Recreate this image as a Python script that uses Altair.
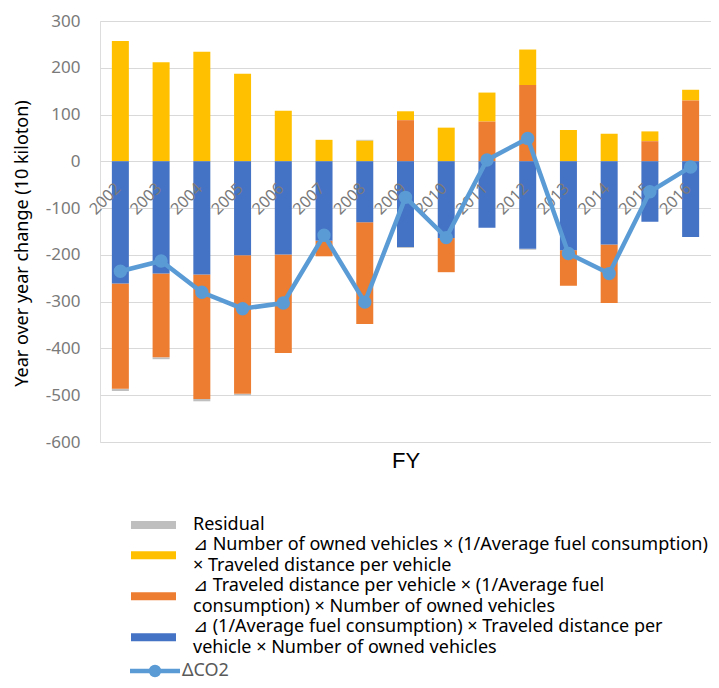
import altair as alt
import pandas as pd

years = ["2002", "2003", "2004", "2005", "2006", "2007", "2008", "2009",
         "2010", "2011", "2012", "2013", "2014", "2015", "2016"]

# contributions (10 kiloton)
vehicles_count = [257, 212, 234, 187, 108, 46, 44, 19, 72, 62, 76, 67, 59, 21, 23]
distance = [-225, -179, -266, -296, -211, -33, -218, 88, -73, 85, 163, -76, -125, 43, 130]
fuel_eff = [-261, -240, -242, -201, -199, -170, -130, -183, -164, -142, -187, -190, -178, -129, -162]
residual = [-5, -4, -5, -3, 0, 0, 2, -2, 0, 0, -2, 0, 0, 0, 0]
delta_co2 = [-235, -213, -280, -315, -303, -158, -301, -77, -163, 3, 49, -197, -240, -65, -12]

series_names = [
    "Residual",
    "⊿ Number of owned vehicles × (1/Average fuel consumption)\n× Traveled distance per vehicle",
    "⊿ Traveled distance per vehicle × (1/Average fuel\nconsumption) × Number of owned vehicles",
    "⊿ (1/Average fuel consumption) × Traveled distance per\nvehicle × Number of owned vehicles",
]
series_colors = ["#BFBFBF", "#FFC000", "#ED7D31", "#4472C4"]
stack_order = [3, 2, 1, 0]
line_name = "ΔCO2"
line_color = "#5B9BD5"
y_ticks = [-600, -500, -400, -300, -200, -100, 0, 100, 200, 300]

rows = []
for vals, name, order in zip([residual, vehicles_count, distance, fuel_eff],
                             series_names, stack_order):
    for y, v in zip(years, vals):
        rows.append({"year": y, "series": name, "value": v, "order": order})
df = pd.DataFrame(rows)
df_line = pd.DataFrame({"year": years, "value": delta_co2, "name": line_name})
df_years = pd.DataFrame({"year": years, "value": [0] * len(years)})

FONT = "Noto Sans"
yscale = alt.Scale(domain=[-600, 300], nice=False, zero=False)
xscale = alt.Scale(paddingInner=0, paddingOuter=0)

x_axis = alt.Axis(labels=False, ticks=False, domain=False, grid=False,
                  title="FY", titleFont="Liberation Sans", titleFontSize=22,
                  titleFontWeight="normal", titleColor="#000000", titlePadding=8)
y_axis = alt.Axis(values=y_ticks, title="Year over year change (10 kiloton)",
                  titleFont=FONT, titleFontSize=18, titleFontWeight="normal",
                  titleColor="#000000", titlePadding=14, titleY=222,
                  labelFont=FONT, labelFontSize=17, labelColor="#7A7A7A",
                  labelExpr="'' + datum.value",
                  labelPadding=20, ticks=False, domain=False,
                  grid=True, gridColor="#D9D9D9", gridWidth=1)

X = alt.X("year:N", sort=years, scale=xscale, axis=x_axis, title="FY")

two_line_path = "M-5.625,1.56H5.625V3.56H-5.625Z"
one_line_path = "M-5.625,-1H5.625V1H-5.625Z"

bars = alt.Chart(df).mark_bar(size=17).encode(
    x=X,
    y=alt.Y("value:Q", stack="zero", scale=yscale, axis=y_axis,
            title="Year over year change (10 kiloton)"),
    color=alt.Color("series:N",
                    scale=alt.Scale(domain=series_names, range=series_colors),
                    legend=alt.Legend(title=None, orient="none", legendX=31, legendY=495,
                                      direction="vertical", padding=0,
                                      symbolType=alt.ExprRef(
                                          f"datum.index == 0 ? '{one_line_path}' : '{two_line_path}'"),
                                      symbolSize=64, symbolOffset=13.5, symbolStrokeWidth=0,
                                      labelOffset=30.5, labelFont=FONT, labelFontSize=18,
                                      labelColor="#000000", labelLimit=1000, rowPadding=2,
                                      labelExpr="split(datum.label, '\\n')")),
    order=alt.Order("order:Q"),
)

labels = alt.Chart(df_years).mark_text(
    angle=315, align="right", baseline="middle", dx=-19, dy=16,
    font=FONT, fontSize=16, color="#7A7A7A",
).encode(
    x=X,
    y=alt.Y("value:Q", scale=yscale, axis=y_axis, title="Year over year change (10 kiloton)"),
    text="year:N",
)

line = alt.Chart(df_line).mark_line(
    strokeWidth=4.5,
    point=alt.OverlayMarkDef(filled=True, size=130, fill=line_color),
).encode(
    x=X,
    y=alt.Y("value:Q", scale=yscale, axis=y_axis, title="Year over year change (10 kiloton)"),
    stroke=alt.Stroke("name:N", scale=alt.Scale(domain=[line_name], range=[line_color]),
                      legend=alt.Legend(title=None, orient="none", legendX=30, legendY=641,
                                        padding=0,
                                        symbolType="M-5,0H5M0.8,0A0.8,0.8 0 1 1 -0.8,0A0.8,0.8 0 1 1 0.8,0Z",
                                        symbolSize=100, symbolOffset=16, symbolStrokeWidth=4.5,
                                        symbolFillColor=line_color,
                                        labelOffset=18, labelFont=FONT, labelFontSize=18,
                                        labelColor="#595959")),
)

chart = alt.layer(bars, labels, line).properties(
    width=611, height=421,
    autosize=alt.AutoSizeParams(type="none"),
    padding={"left": 92, "top": 13, "right": 0, "bottom": 238},
).configure_view(stroke=None).configure(
    style={"guide-label": {"lineHeight": 20.5}}
)

chart.save("out.html", embed_options={"renderer": "svg", "actions": False})
